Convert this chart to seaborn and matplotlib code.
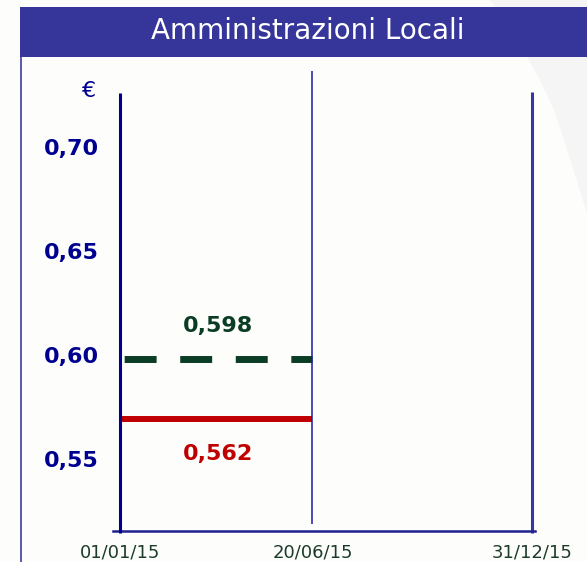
import matplotlib
matplotlib.use("Agg")
import matplotlib.pyplot as plt
from matplotlib.patches import Rectangle, Polygon
import pandas as pd
import seaborn as sns

# data
dates = ["01/01/15", "20/06/15", "31/12/15"]
y_ticks = [0.55, 0.60, 0.65, 0.70]
dashed_value = 0.598
dashed_label = "0,598"
red_value = 0.569      # where the red line sits in the picture
red_label = "0,562"    # label printed under it
title = "Amministrazioni Locali"

W, H = 587, 562
sns.set_theme(style="white")
plt.rcParams['font.family'] = ['DejaVu Sans']

d = pd.to_datetime(dates, format="%d/%m/%y")
day = list((d - d[0]).days)

segs = pd.DataFrame({
    "day": [day[0], day[1], day[0], day[1]],
    "value": [dashed_value, dashed_value, red_value, red_value],
    "series": ["dashed", "dashed", "red", "red"],
})

fig = plt.figure(figsize=(W / 100, H / 100), dpi=100)
fig.patch.set_facecolor("#fdfdfc")

# faint grey swoosh on the right + title banner + left border
swoosh = [(490, 0), (587, 0), (587, 213), (572, 165), (555, 112), (540, 80), (527, 57), (508, 28)]
fig.patches.append(Polygon([(x / W, (H - y) / H) for x, y in swoosh], closed=True, transform=fig.transFigure,
                           facecolor="#f5f5f5", edgecolor="none", zorder=0))
fig.patches.append(Rectangle((20 / W, (H - 57) / H), (W - 20) / W, 50 / H, transform=fig.transFigure,
                             facecolor="#35359a", edgecolor="none", zorder=1))
fig.add_artist(plt.Line2D([21 / W, 21 / W], [0, (H - 57) / H], color="#3c3ca6", lw=1.2))
fig.text(308 / W, (H - 31) / H, title, color="white", fontsize=20, ha="center", va="center")

ax = fig.add_axes([113 / W, (H - 531) / H, (535 - 113) / W, (531 - 71) / H])
ax.patch.set_alpha(0)
ppd = (532 - 120) / day[2]
ax.set_xlim(day[0] - 7 / ppd, day[2] + 3 / ppd)
ax.set_ylim(0.60 - 176 / 2080, 0.60 + 284 / 2080)

sns.lineplot(data=segs, x="day", y="value", hue="series", palette={"dashed": "#0b3d24", "red": "#c00000"},
             legend=False, ax=ax)
for ln in ax.lines:
    if ln.get_color() == "#c00000":
        ln.set_linewidth(4.3)
        ln.set_solid_capstyle("butt")
    else:
        ln.set_linewidth(5)
        ln.set_dash_capstyle("butt")
        ln.set_linestyle((7.4, (4.6, 3.4)))

ax.vlines(day[0], 0.5145, 0.726, color="#00008b", lw=2.2, clip_on=False, zorder=3)
ax.vlines(day[1], 0.5188, 0.7365, color="#1a1aa0", lw=1.1, clip_on=False)
ax.vlines(day[2], 0.5145, 0.7264, color="#3636a0", lw=2.2, clip_on=False)

for s in ["left", "right", "top"]:
    ax.spines[s].set_visible(False)
ax.spines["bottom"].set_color("#20208f")
ax.spines["bottom"].set_linewidth(1.8)

ax.set_yticks(y_ticks)
ax.set_yticklabels([f"{v:.2f}".replace(".", ",") for v in y_ticks], fontweight="bold")
ax.tick_params(axis="y", length=0, pad=10, labelsize=16, labelcolor="#000090")
ax.set_xticks(day)
ax.set_xticklabels(dates)
ax.tick_params(axis="x", length=0, pad=9, labelsize=13, labelcolor="#1c3b2b")
ax.set_xlabel("")
ax.set_ylabel("")

fig.text(89 / W, (H - 91) / H, "€", color="#000090", fontsize=16, ha="center", va="center")

mid = (day[0] + day[1]) / 2
ax.annotate(dashed_label, (mid, dashed_value), xytext=(1.5, 24), textcoords="offset points",
            ha="center", va="center", fontsize=16, fontweight="bold", color="#0b3d24")
ax.annotate(red_label, (mid, red_value), xytext=(1.5, -24.5), textcoords="offset points",
            ha="center", va="center", fontsize=16, fontweight="bold", color="#c00000")

fig.savefig("out.png", dpi=100, facecolor=fig.get_facecolor())
